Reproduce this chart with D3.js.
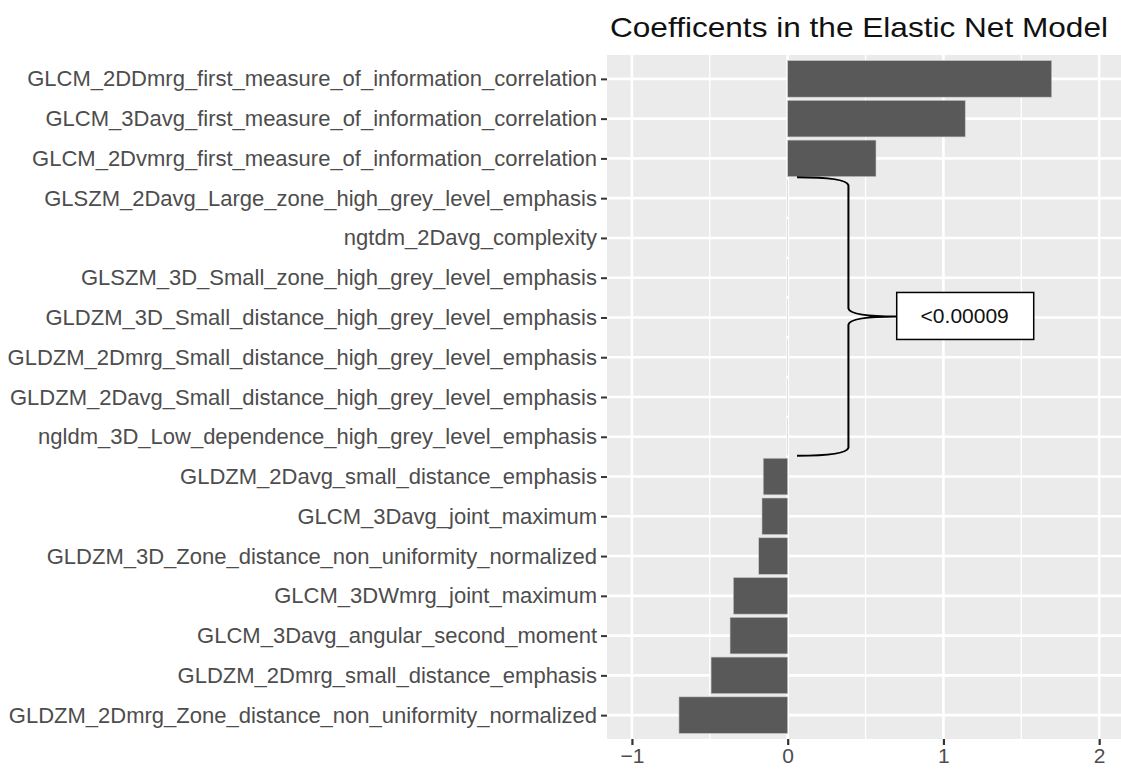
<!DOCTYPE html>
<html>
<head>
<meta charset="utf-8">
<script src="https://cdn.jsdelivr.net/npm/d3@7"></script>
<style>
  body { margin: 0; background: #fff; }
  text { font-family: "Liberation Sans", Arial, sans-serif; }
</style>
</head>
<body>
<div id="vis"></div>
<script>
// features, top to bottom
const features = [
  "GLCM_2DDmrg_first_measure_of_information_correlation",
  "GLCM_3Davg_first_measure_of_information_correlation",
  "GLCM_2Dvmrg_first_measure_of_information_correlation",
  "GLSZM_2Davg_Large_zone_high_grey_level_emphasis",
  "ngtdm_2Davg_complexity",
  "GLSZM_3D_Small_zone_high_grey_level_emphasis",
  "GLDZM_3D_Small_distance_high_grey_level_emphasis",
  "GLDZM_2Dmrg_Small_distance_high_grey_level_emphasis",
  "GLDZM_2Davg_Small_distance_high_grey_level_emphasis",
  "ngldm_3D_Low_dependence_high_grey_level_emphasis",
  "GLDZM_2Davg_small_distance_emphasis",
  "GLCM_3Davg_joint_maximum",
  "GLDZM_3D_Zone_distance_non_uniformity_normalized",
  "GLCM_3DWmrg_joint_maximum",
  "GLCM_3Davg_angular_second_moment",
  "GLDZM_2Dmrg_small_distance_emphasis",
  "GLDZM_2Dmrg_Zone_distance_non_uniformity_normalized"
];
const coefs = [1.695, 1.14, 0.567, 0.00008, 0.00007, 0.00006, 0.00005, 0.00004, 0.00003, 0.00002,
  -0.157, -0.165, -0.186, -0.349, -0.370, -0.492, -0.698];
const xTicks = [-1, 0, 1, 2];
const xMinor = [-0.5, 0.5, 1.5];
const title = "Coefficents in the Elastic Net Model";
const note = "<0.00009";
const bracketFrom = features[3], bracketTo = features[9];

const WIDTH = 1121, HEIGHT = 773;
const MARGINS = { left: 607, right: 0, top: 55, bottom: 34 };

const svg = d3.select("#vis").append("svg")
  .attr("width", WIDTH).attr("height", HEIGHT);

const X = d3.scaleLinear().domain([-1.16, 2.14])
  .range([MARGINS.left, WIDTH - MARGINS.right]);

// ggplot style discrete axis: 0.6 expansion on each side
const step = (HEIGHT - MARGINS.bottom - MARGINS.top) / (features.length - 1 + 1.2);
const Y = d3.scalePoint().domain(features)
  .range([MARGINS.top + 0.6 * step, HEIGHT - MARGINS.bottom - 0.6 * step]);
const barH = step * 0.92;

// panel
svg.append("rect")
  .attr("x", MARGINS.left).attr("y", MARGINS.top)
  .attr("width", WIDTH - MARGINS.right - MARGINS.left)
  .attr("height", HEIGHT - MARGINS.bottom - MARGINS.top)
  .attr("fill", "#ebebeb");

const grid = svg.append("g").attr("stroke", "#fff");
grid.selectAll(".minor").data(xMinor).enter().append("line")
  .attr("x1", d => X(d)).attr("x2", d => X(d))
  .attr("y1", MARGINS.top).attr("y2", HEIGHT - MARGINS.bottom)
  .attr("stroke-width", 1.3);
grid.selectAll(".major").data(xTicks).enter().append("line")
  .attr("x1", d => X(d)).attr("x2", d => X(d))
  .attr("y1", MARGINS.top).attr("y2", HEIGHT - MARGINS.bottom)
  .attr("stroke-width", 2.6);
grid.selectAll(".hmajor").data(features).enter().append("line")
  .attr("x1", MARGINS.left).attr("x2", WIDTH - MARGINS.right)
  .attr("y1", d => Y(d)).attr("y2", d => Y(d))
  .attr("stroke-width", 2.6);

// bars
svg.selectAll(".bar").data(features).enter().append("rect")
  .attr("x", (d, i) => X(Math.min(0, coefs[i])))
  .attr("y", d => Y(d) - barH / 2)
  .attr("width", (d, i) => Math.abs(X(coefs[i]) - X(0)))
  .attr("height", barH)
  .attr("fill", "#595959")
  .attr("stroke", "#c8c8c8").attr("stroke-width", 0.6);

// y axis
const yAxis = svg.append("g")
  .attr("transform", "translate(" + MARGINS.left + ",0)")
  .call(d3.axisLeft(Y).tickSize(6).tickPadding(4));
yAxis.select(".domain").remove();
yAxis.selectAll("line").attr("stroke", "#333").attr("stroke-width", 2);
yAxis.selectAll("text").attr("font-size", "22px").attr("fill", "#4d4d4d")
  .attr("font-family", "Liberation Sans, Arial, sans-serif");

// x axis
const xAxis = svg.append("g")
  .attr("transform", "translate(0," + (HEIGHT - MARGINS.bottom) + ")")
  .call(d3.axisBottom(X).tickValues(xTicks).tickSize(6).tickPadding(3)
    .tickFormat(d => d < 0 ? "\u2212" + Math.abs(d) : d));
xAxis.select(".domain").remove();
xAxis.selectAll("line").attr("stroke", "#333").attr("stroke-width", 2.2);
xAxis.selectAll("text").attr("font-size", "21px").attr("fill", "#4d4d4d")
  .attr("font-family", "Liberation Sans, Arial, sans-serif");

// title
svg.append("text")
  .attr("x", 610).attr("y", 37)
  .attr("font-size", "28px").attr("fill", "#111")
  .attr("textLength", 498).attr("lengthAdjust", "spacingAndGlyphs")
  .text(title);

// brace annotation
const bx0 = X(0.06), bx1 = X(0.39), bxTip = X(0.70);
const by0 = Y(bracketFrom) - step / 2 - 1, by1 = Y(bracketTo) + step / 2 - 1;
const bym = (by0 + by1) / 2;
const braceD = [
  "M", bx0, by0,
  "Q", bx1 - 2, by0, bx1, by0 + 8,
  "L", bx1, bym - 8,
  "Q", bx1 + 2, bym, bxTip, bym,
  "M", bx1, bym + 8,
  "Q", bx1 + 2, bym, bxTip, bym,
  "M", bx1, bym + 8,
  "L", bx1, by1 - 8,
  "Q", bx1 - 2, by1, bx0, by1
].join(" ");
svg.append("path").attr("d", braceD)
  .attr("fill", "none").attr("stroke", "#000").attr("stroke-width", 2);

svg.append("rect")
  .attr("x", bxTip).attr("y", bym - 24)
  .attr("width", 137).attr("height", 47)
  .attr("fill", "#fff").attr("stroke", "#000").attr("stroke-width", 1.5);
svg.append("text")
  .attr("x", bxTip + 68).attr("y", bym + 7)
  .attr("text-anchor", "middle")
  .attr("font-size", "21px").attr("fill", "#111")
  .text(note);
</script>
</body>
</html>
